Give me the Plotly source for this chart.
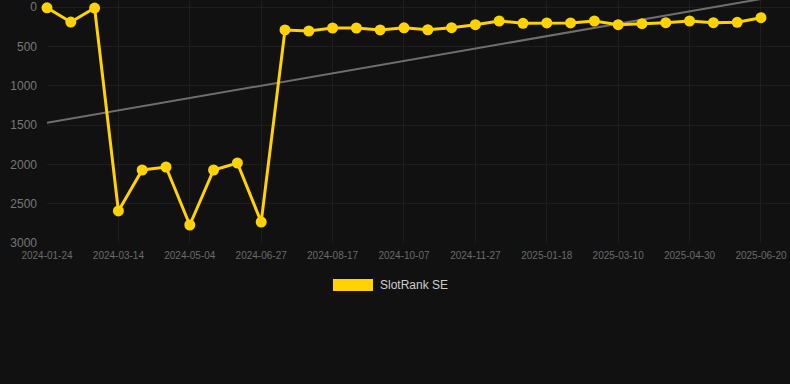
import numpy as np
import plotly.graph_objects as go

dates = ["2024-01-24", "2024-02-10", "2024-02-27", "2024-03-14", "2024-03-31", "2024-04-17",
         "2024-05-04", "2024-05-22", "2024-06-09", "2024-06-27", "2024-07-14", "2024-07-31",
         "2024-08-17", "2024-09-03", "2024-09-20", "2024-10-07", "2024-10-24", "2024-11-10",
         "2024-11-27", "2024-12-14", "2024-12-31", "2025-01-18", "2025-02-04", "2025-02-21",
         "2025-03-10", "2025-03-27", "2025-04-13", "2025-04-30", "2025-05-17", "2025-06-03",
         "2025-06-20"]
rank = [10, 191, 13, 2593, 2072, 2034, 2771, 2072, 1983, 2733,
        292, 305, 267, 267, 292, 264, 289, 263, 225, 178,
        207, 203, 203, 178, 225, 212, 200, 178, 200, 195, 136]
tick_labels = dates[::3]
y_ticks = [0, 500, 1000, 1500, 2000, 2500, 3000]
series_name = "SlotRank SE"

# linear trend of the series
idx = np.arange(len(rank))
slope, intercept = np.polyfit(idx, rank, 1)
trend = [intercept + slope * idx[0], intercept + slope * idx[-1]]
trend_x = [dates[0], dates[-1]]

GOLD = "#FFD200"
GRID = "#1e1e1e"

fig = go.Figure()
fig.add_trace(go.Scatter(x=trend_x, y=trend, mode="lines",
                         line=dict(color="#6e6e6e", width=2), showlegend=False,
                         hoverinfo="skip"))
fig.add_trace(go.Scatter(x=dates, y=rank, mode="lines+markers", name=series_name,
                         line=dict(color=GOLD, width=3),
                         marker=dict(color=GOLD, size=11), showlegend=False,
                         cliponaxis=False))

fig.update_layout(
    width=790, height=384,
    margin=dict(l=47, r=0, t=0, b=141),
    paper_bgcolor="#111111", plot_bgcolor="#111111",
    font=dict(family="Liberation Sans, Arial, sans-serif"),
    xaxis=dict(type="category", categoryorder="array", categoryarray=dates,
               range=[0, 31.22], tickmode="array", tickvals=tick_labels,
               ticktext=tick_labels, showgrid=True, gridcolor=GRID, gridwidth=1,
               zeroline=False, showline=False, ticks="",
               ticklabelstandoff=5,
               tickfont=dict(size=10, color="#6b6b6b"), tickangle=0),
    yaxis=dict(range=[3000, -89], tickmode="array", tickvals=y_ticks,
               showgrid=True, gridcolor=GRID, gridwidth=1, zeroline=False,
               showline=False, ticks="", ticklabelstandoff=9,
               tickfont=dict(size=12, color="#777777")),
    shapes=[dict(type="rect", xref="paper", yref="paper",
                 x0=(333 - 47) / 743, x1=(373 - 47) / 743,
                 y0=(243 - 291) / 243, y1=(243 - 279) / 243,
                 fillcolor=GOLD, line=dict(width=0))],
    annotations=[dict(text=series_name, xref="paper", yref="paper",
                      x=(378 - 47) / 743, y=(243 - 285) / 243,
                      xanchor="left", yanchor="middle", showarrow=False,
                      font=dict(size=12, color="#cccccc"))],
)

fig.write_html("out.html")
